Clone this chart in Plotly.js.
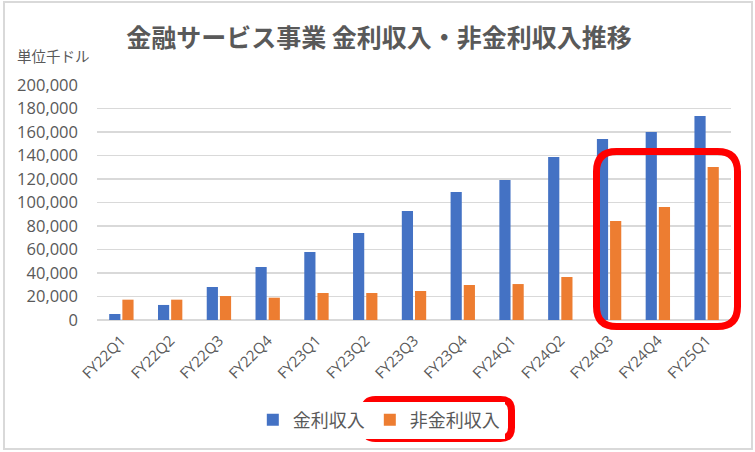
<!DOCTYPE html>
<html>
<head>
<meta charset="utf-8">
<script src="https://cdn.plot.ly/plotly-3.0.1.min.js"></script>
<style>
  html, body { margin: 0; padding: 0; background: #fff; }
  #chart { width: 755px; height: 452px; }
</style>
</head>
<body>
<div id="chart"></div>
<script>
  var quarters = ['FY22Q1', 'FY22Q2', 'FY22Q3', 'FY22Q4', 'FY23Q1', 'FY23Q2', 'FY23Q3',
                  'FY23Q4', 'FY24Q1', 'FY24Q2', 'FY24Q3', 'FY24Q4', 'FY25Q1'];
  var interestIncome = [5100, 12800, 28100, 45100, 57900, 74000, 92800,
                        109000, 119100, 138700, 154000, 160000, 173600];
  var nonInterestIncome = [17300, 17300, 20400, 19000, 23000, 23000, 24700,
                           29800, 30600, 36600, 84300, 96200, 130200];
  var yTicks = [0, 20000, 40000, 60000, 80000, 100000, 120000, 140000, 160000, 180000, 200000];

  var W = 755, H = 452;
  var M = { l: 97, r: 24, t: 85, b: 132 };
  var pw = W - M.l - M.r, ph = H - M.t - M.b;

  // page pixels -> paper coords, for the hand-drawn highlight boxes
  function fx(x) { return (x - M.l) / pw; }
  function fy(y) { return (H - M.b - y) / ph; }
  function roundBox(x0, y0, x1, y1, r) {
    var p = 'M' + fx(x0 + r) + ',' + fy(y0);
    p += ' L' + fx(x1 - r) + ',' + fy(y0);
    p += ' Q' + fx(x1) + ',' + fy(y0) + ' ' + fx(x1) + ',' + fy(y0 + r);
    p += ' L' + fx(x1) + ',' + fy(y1 - r);
    p += ' Q' + fx(x1) + ',' + fy(y1) + ' ' + fx(x1 - r) + ',' + fy(y1);
    p += ' L' + fx(x0 + r) + ',' + fy(y1);
    p += ' Q' + fx(x0) + ',' + fy(y1) + ' ' + fx(x0) + ',' + fy(y1 - r);
    p += ' L' + fx(x0) + ',' + fy(y0 + r);
    p += ' Q' + fx(x0) + ',' + fy(y0) + ' ' + fx(x0 + r) + ',' + fy(y0) + ' Z';
    return p;
  }

  var font = '"Noto Sans CJK JP", "Noto Sans", sans-serif';
  var numFont = '"Open Sans", "Noto Sans", sans-serif';
  var grey = '#595959';

  var interest = {
    x: quarters,
    y: interestIncome,
    name: '金利収入',
    type: 'bar',
    marker: { color: '#4472C4' },
    hoverinfo: 'x+y'
  };

  var nonInterest = {
    x: quarters,
    y: nonInterestIncome,
    name: '非金利収入',
    type: 'bar',
    marker: { color: '#ED7D31' },
    hoverinfo: 'x+y'
  };

  var layout = {
    width: W,
    height: H,
    margin: M,
    paper_bgcolor: '#fff',
    plot_bgcolor: '#fff',
    font: { family: font, color: grey },
    barmode: 'group',
    bargap: 0.46,
    bargroupgap: 0.15,
    title: {
      text: '金融サービス事業 金利収入・非金利収入推移',
      x: 0.502,
      xanchor: 'center',
      y: 0.916,
      yanchor: 'middle',
      font: { family: font, size: 25, color: grey, weight: 'bold' }
    },
    xaxis: {
      type: 'category',
      tickangle: -45,
      tickfont: { family: numFont, size: 15, color: grey },
      ticklabelstandoff: 8,
      showgrid: false,
      showline: false,
      ticks: '',
      fixedrange: true
    },
    yaxis: {
      range: [0, 200000],
      tickvals: yTicks,
      tickformat: ',d',
      tickfont: { family: numFont, size: 16.5, color: grey },
      ticklabelstandoff: 18,
      gridcolor: '#d9d9d9',
      gridwidth: 1.3,
      zeroline: true,
      zerolinecolor: '#d9d9d9',
      zerolinewidth: 1.3,
      showline: false,
      fixedrange: true
    },
    legend: {
      orientation: 'h',
      x: 0.4445,
      xanchor: 'center',
      y: fy(420),
      yanchor: 'middle',
      font: { size: 18, color: grey },
      itemwidth: 30,
      traceorder: 'normal'
    },
    annotations: [{
      text: '単位千ドル',
      xref: 'paper',
      yref: 'paper',
      x: fx(15),
      y: fy(55),
      xanchor: 'left',
      yanchor: 'middle',
      showarrow: false,
      font: { size: 14.5, color: grey }
    }],
    shapes: [
      {
        type: 'rect',
        xref: 'paper', yref: 'paper',
        x0: fx(4), x1: fx(752), y0: fy(2), y1: fy(449),
        line: { color: '#d9d9d9', width: 2 },
        layer: 'below'
      },
      {
        type: 'path',
        xref: 'paper', yref: 'paper',
        path: roundBox(596.5, 151.5, 737.5, 326.5, 20),
        line: { color: '#ff0000', width: 7 }
      },
      {
        type: 'path',
        xref: 'paper', yref: 'paper',
        path: roundBox(364.5, 399.5, 511.5, 438.5, 11),
        line: { color: '#ff0000', width: 7 }
      }
    ]
  };

  Plotly.newPlot('chart', [interest, nonInterest], layout, { displayModeBar: false, staticPlot: true });
</script>
</body>
</html>
